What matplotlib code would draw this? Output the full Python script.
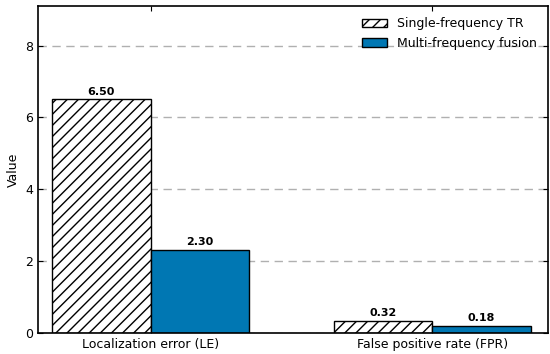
import numpy as np
import matplotlib.pyplot as plt

categories = ["Localization error (LE)", "False positive rate (FPR)"]
single_tr = [6.50, 0.32]
multi_fusion = [2.30, 0.18]

x = np.arange(len(categories))
width = 0.35

fig, ax = plt.subplots(figsize=(5.5, 3.54), dpi=100)
fig.subplots_adjust(left=0.069, right=0.996, top=0.983, bottom=0.06)

b1 = ax.bar(x - width / 2, single_tr, width, color="white", edgecolor="black",
            hatch="///", linewidth=1.0, label="Single-frequency TR")
b2 = ax.bar(x + width / 2, multi_fusion, width, color="#0077b3", edgecolor="black",
            linewidth=1.0, label="Multi-frequency fusion")

for bars in (b1, b2):
    for rect in bars:
        h = rect.get_height()
        ax.text(rect.get_x() + rect.get_width() / 2, h + 0.08, "%.2f" % h,
                ha="center", va="bottom", fontsize=8, fontweight="bold")

ax.set_xlim(-0.4, 1.41)
ax.set_ylim(0, 9.1)
ax.set_xticks(x)
ax.set_xticklabels(categories, fontsize=9)
ax.set_yticks([0, 2, 4, 6, 8])
ax.set_ylabel("Value", fontsize=9)
ax.tick_params(direction="in", top=True, right=True, labelsize=9)
ax.yaxis.grid(True, linestyle=(0, (6, 4)), color="#b0b0b0", linewidth=1.0)
ax.set_axisbelow(True)
for s in ax.spines.values():
    s.set_linewidth(1.2)

ax.legend(loc="upper right", fontsize=9, frameon=False)

fig.savefig("out.png", dpi=100)
